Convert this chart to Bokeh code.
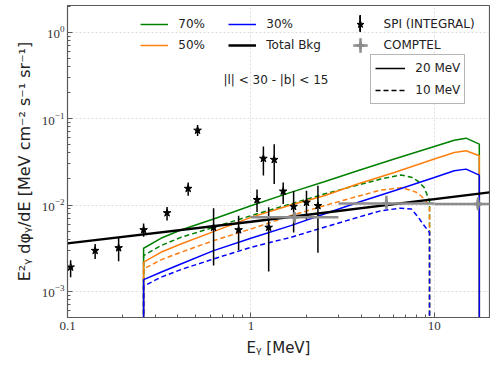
import numpy as np
from bokeh.plotting import figure
from bokeh.models import (Legend, LegendItem, Label, ColumnDataSource, FixedTicker,
                          NumeralTickFormatter)
from bokeh.embed import file_html
from bokeh.resources import INLINE

# ---------------- data ----------------
# SPI (INTEGRAL) points: energy [MeV], flux, lower / upper error bar ends
spi_E = [0.104, 0.1415, 0.19, 0.26, 0.349, 0.455, 0.512, 0.626, 0.857, 1.08,
         1.17, 1.25, 1.34, 1.50, 1.71, 2.01, 2.32]
spi_flux = [0.00191, 0.00297, 0.00319, 0.00515, 0.0081, 0.0155, 0.073, 0.0055,
            0.00515, 0.0115, 0.0345, 0.0055, 0.0335, 0.0144, 0.0096, 0.0107, 0.0098]
spi_lo = [0.00146, 0.00238, 0.00224, 0.0043, 0.0066, 0.0128, 0.063, 0.0020,
          0.0030, 0.0083, 0.0220, 0.0017, 0.0175, 0.0103, 0.0048, 0.0068, 0.0028]
spi_hi = [0.0023, 0.00355, 0.0042, 0.0061, 0.0095, 0.0182, 0.084, 0.0092,
          0.0075, 0.0151, 0.0475, 0.0094, 0.0505, 0.0182, 0.0145, 0.0146, 0.0167]

# COMPTEL points
comptel_E = [1.73, 5.48, 17.3]
comptel_Elo = [1.0, 3.0, 10.0]
comptel_Ehi = [3.0, 10.0, 30.0]
comptel_flux = [0.0072, 0.0104, 0.0103]
comptel_lo = [0.0062, 0.0090, 0.0087]
comptel_hi = [0.0083, 0.0128, 0.0122]

# Total background
bkg_E = [0.1, 1.0, 20.0]
bkg_flux = [0.0036, 0.0064, 0.0140]

# Model curves, 20 MeV (solid)
E_20 = [0.26, 0.26, 0.323, 0.415, 0.626, 1.0, 1.65, 2.51, 3.82, 6.05, 10.0,
        12.85, 14.9, 17.6, 17.6]
f70_20 = [0.0, 0.00316, 0.00412, 0.00514, 0.00689, 0.00982, 0.0140, 0.0186,
          0.0249, 0.0340, 0.0475, 0.0562, 0.0593, 0.0506, 0.0]
f50_20 = [0.0, 0.00218, 0.00284, 0.00354, 0.00492, 0.0072, 0.0100, 0.0128,
          0.0175, 0.0238, 0.0340, 0.0405, 0.0424, 0.0371, 0.0]
f30_20 = [0.0, 0.00137, 0.00167, 0.00208, 0.00297, 0.00412, 0.00577, 0.00787,
          0.0107, 0.0146, 0.0208, 0.0249, 0.0260, 0.0222, 0.0]

# Model curves, 10 MeV (dashed)
E_10 = [0.26, 0.26, 0.323, 0.415, 0.626, 1.0, 1.65, 2.51, 3.82, 5.12, 6.58,
        7.5, 8.1, 8.8, 9.42, 9.42]
f70_10 = [0.0, 0.0026, 0.00339, 0.00423, 0.00552, 0.00752, 0.0103, 0.0134,
          0.0170, 0.0200, 0.0222, 0.0210, 0.0190, 0.0160, 0.0112, 0.0]
f50_10 = [0.0, 0.00182, 0.00232, 0.00284, 0.00387, 0.00528, 0.00752, 0.00982,
          0.0126, 0.0149, 0.0158, 0.0148, 0.0138, 0.0118, 0.0098, 0.0]
f30_10 = [0.0, 0.00115, 0.00146, 0.00179, 0.00238, 0.00324, 0.00423, 0.00552,
          0.0072, 0.00859, 0.0092, 0.0090, 0.0074, 0.0058, 0.0048, 0.0]

x_major = [0.1, 1.0, 10.0]
x_minor = [0.2, 0.3, 0.4, 0.5, 0.6, 0.7, 0.8, 0.9, 2, 3, 4, 5, 6, 7, 8, 9, 20]
y_major = [1e-3, 1e-2, 1e-1, 1.0]
y_minor = [m * d for d in (1e-4, 1e-3, 1e-2, 1e-1, 1.0) for m in range(2, 10)]

GREEN = "#008000"
ORANGE = "#ff7f0e"
BLUE = "#0000ff"
GRAY = "#8c8c8c"
FRAME = "#5a5a5a"
SANS = "DejaVu Sans"
SERIF = "Liberation Serif"


def floor(a):
    # zero values are drawn at the bottom of a log axis
    return np.clip(np.asarray(a, dtype=float), 1e-9, None)


p = figure(width=490, height=364, x_axis_type="log", y_axis_type="log",
           x_range=(0.1, 20), y_range=(5e-4, 2.03),
           output_backend="svg", toolbar_location=None,
           min_border_left=67, min_border_right=1, min_border_top=5,
           min_border_bottom=47)
p.background_fill_color = "white"
p.border_fill_color = "white"
p.outline_line_color = FRAME
p.outline_line_width = 1.2

p.xaxis.ticker = FixedTicker(ticks=x_major, minor_ticks=x_minor)
p.yaxis.ticker = FixedTicker(ticks=y_major, minor_ticks=y_minor)
p.xaxis.formatter = NumeralTickFormatter(format="0.[0]")

for ax in (p.xaxis, p.yaxis):
    ax.axis_line_color = FRAME
    ax.major_tick_line_color = FRAME
    ax.minor_tick_line_color = FRAME
    ax.major_tick_in = 5
    ax.major_tick_out = 0
    ax.minor_tick_in = 3
    ax.minor_tick_out = 0
    ax.major_label_text_font = SERIF
    ax.major_label_text_font_size = "13px"
    ax.major_label_text_color = "#333333"
    ax.axis_label_text_font = SANS
    ax.axis_label_text_font_size = "15px"
    ax.axis_label_text_font_style = "normal"
    ax.axis_label_text_color = "#222222"

p.yaxis.axis_label_text_font_size = "16px"
p.xaxis.major_label_standoff = 4
p.yaxis.major_label_standoff = 3
p.xaxis.axis_label = "E\u1d67 [MeV]"
p.yaxis.axis_label = "E\u00b2\u1d67 d\u03c6\u1d67/dE [MeV cm\u207b\u00b2 s\u207b\u00b9 sr\u207b\u00b9]"
p.xaxis.axis_label_standoff = 6
p.yaxis.axis_label_standoff = 5

p.grid.grid_line_color = "#d4d4d4"
p.grid.grid_line_dash = "2 2"
p.grid.grid_line_width = 0.8

# ---------------- model curves ----------------
r70 = p.line(E_20, floor(f70_20), line_color=GREEN, line_width=1.5)
p.line(E_10, floor(f70_10), line_color=GREEN, line_width=1.5, line_dash="5 3")
r50 = p.line(E_20, floor(f50_20), line_color=ORANGE, line_width=1.5)
p.line(E_10, floor(f50_10), line_color=ORANGE, line_width=1.5, line_dash="5 3")
r30 = p.line(E_20, floor(f30_20), line_color=BLUE, line_width=1.5)
p.line(E_10, floor(f30_10), line_color=BLUE, line_width=1.5, line_dash="5 3")

# ---------------- background ----------------
rbkg = p.line(bkg_E, bkg_flux, line_color="black", line_width=2.5)

# ---------------- SPI ----------------
spi = ColumnDataSource(dict(E=spi_E, f=spi_flux, lo=spi_lo, hi=spi_hi))
p.segment(x0="E", y0="lo", x1="E", y1="hi", source=spi, line_color="black",
          line_width=1.5)
rspi = p.scatter(x="E", y="f", source=spi, marker="star", size=8,
                 fill_color="black", line_color="black")
rspi_bar = p.rect(x="E", y="f", width=0.0, height=0.0, source=spi,
                  fill_color="black", line_color="black", line_width=1.0,
                  visible=False)

# ---------------- COMPTEL ----------------
com = ColumnDataSource(dict(E=comptel_E, Elo=comptel_Elo, Ehi=comptel_Ehi,
                            f=comptel_flux, lo=comptel_lo, hi=comptel_hi))
p.segment(x0="Elo", y0="f", x1="Ehi", y1="f", source=com, line_color=GRAY,
          line_width=2.5)
p.segment(x0="E", y0="lo", x1="E", y1="hi", source=com, line_color=GRAY,
          line_width=2.5)
rcom = p.scatter(x="E", y="f", source=com, marker="cross", size=8,
                 line_color=GRAY, line_width=3)
rcom_big = p.scatter(x="E", y="f", source=com, marker="cross", size=8,
                     line_color=GRAY, line_width=2.5, visible=False)

# legend-only renderers for the energy cut legend
r20 = p.line(bkg_E, bkg_flux, line_color="black", line_width=1.5, visible=False)
r10 = p.line(bkg_E, bkg_flux, line_color="black", line_width=1.5,
             line_dash="5 3", visible=False)

# ---------------- legends ----------------
FRAME_LEFT = 66.7
FRAME_BOTTOM = 316.7


def mk_legend(items, px, py_bottom, **kw):
    opts = dict(orientation="vertical", glyph_width=28, glyph_height=18,
                label_height=18, spacing=3, label_standoff=10, padding=0,
                margin=0, border_line_color=None, background_fill_alpha=0,
                label_text_font=SANS, label_text_font_size="12px",
                label_text_color="#222222")
    opts.update(kw)
    lg = Legend(items=items, location=(px - FRAME_LEFT, FRAME_BOTTOM - py_bottom),
                **opts)
    p.add_layout(lg)
    return lg


mk_legend([LegendItem(label="70%", renderers=[r70]),
           LegendItem(label="50%", renderers=[r50])], 140, 54)
mk_legend([LegendItem(label="30%", renderers=[r30]),
           LegendItem(label="Total Bkg", renderers=[rbkg])], 228, 54)
mk_legend([LegendItem(label="SPI (INTEGRAL)", renderers=[rspi]),
           LegendItem(label="COMPTEL", renderers=[rcom])], 345.3, 54)
mk_legend([LegendItem(label="", renderers=[rspi_bar])], 358.3, 33,
          glyph_width=2, glyph_height=20, label_height=20, label_standoff=0)
mk_legend([LegendItem(label="", renderers=[rcom_big])], 341.3, 63,
          glyph_width=36, glyph_height=36, label_height=36, label_standoff=0)
mk_legend([LegendItem(label="20 MeV", renderers=[r20]),
           LegendItem(label="10 MeV", renderers=[r10])], 370, 104,
          glyph_width=30, spacing=4, padding=4, border_line_color="#6e6e6e",
          border_line_width=1, background_fill_color="white",
          background_fill_alpha=0.85)

# ---------------- annotation ----------------
p.add_layout(Label(x=1.37, y=0.28, text="|l| < 30 - |b| < 15",
                   text_align="center", text_baseline="middle",
                   text_font=SANS, text_font_size="12px",
                   text_color="#222222"))

open("out.html", "w").write(file_html(p, INLINE))
